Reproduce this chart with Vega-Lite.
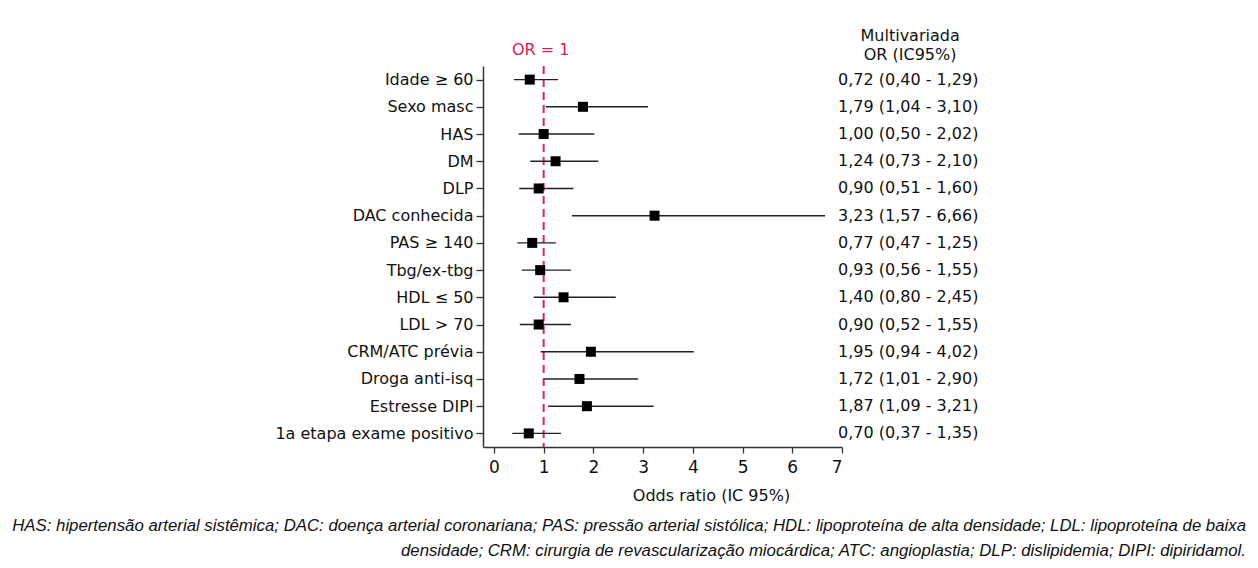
{
  "$schema": "https://vega.github.io/schema/vega-lite/v6.json",
  "autosize": {"type": "none"},
  "padding": {"left": 483, "top": 66, "right": 416, "bottom": 121},
  "width": 359,
  "height": 381,
  "background": "white",
  "config": {
    "view": {"stroke": null},
    "font": "DejaVu Sans"
  },
  "title": {
    "text": [
      "HAS: hipertensão arterial sistêmica; DAC: doença arterial coronariana; PAS: pressão arterial sistólica; HDL: lipoproteína de alta densidade; LDL: lipoproteína de baixa",
      "densidade; CRM: cirurgia de revascularização miocárdica; ATC: angioplastia; DLP: dislipidemia; DIPI: dipiridamol."
    ],
    "orient": "bottom",
    "anchor": "end",
    "align": "right",
    "frame": "group",
    "dx": 404,
    "offset": 15,
    "font": "Liberation Sans",
    "fontSize": 16.8,
    "fontStyle": "italic",
    "fontWeight": "normal",
    "lineHeight": 25,
    "color": "#111111"
  },
  "datasets": {
    "rows": [
      {"var": "Idade ≥ 60", "or": 0.72, "lo": 0.40, "hi": 1.29, "label": "0,72 (0,40 - 1,29)"},
      {"var": "Sexo masc", "or": 1.79, "lo": 1.04, "hi": 3.10, "label": "1,79 (1,04 - 3,10)"},
      {"var": "HAS", "or": 1.00, "lo": 0.50, "hi": 2.02, "label": "1,00 (0,50 - 2,02)"},
      {"var": "DM", "or": 1.24, "lo": 0.73, "hi": 2.10, "label": "1,24 (0,73 - 2,10)"},
      {"var": "DLP", "or": 0.90, "lo": 0.51, "hi": 1.60, "label": "0,90 (0,51 - 1,60)"},
      {"var": "DAC conhecida", "or": 3.23, "lo": 1.57, "hi": 6.66, "label": "3,23 (1,57 - 6,66)"},
      {"var": "PAS ≥ 140", "or": 0.77, "lo": 0.47, "hi": 1.25, "label": "0,77 (0,47 - 1,25)"},
      {"var": "Tbg/ex-tbg", "or": 0.93, "lo": 0.56, "hi": 1.55, "label": "0,93 (0,56 - 1,55)"},
      {"var": "HDL ≤ 50", "or": 1.40, "lo": 0.80, "hi": 2.45, "label": "1,40 (0,80 - 2,45)"},
      {"var": "LDL > 70", "or": 0.90, "lo": 0.52, "hi": 1.55, "label": "0,90 (0,52 - 1,55)"},
      {"var": "CRM/ATC prévia", "or": 1.95, "lo": 0.94, "hi": 4.02, "label": "1,95 (0,94 - 4,02)"},
      {"var": "Droga anti-isq", "or": 1.72, "lo": 1.01, "hi": 2.90, "label": "1,72 (1,01 - 2,90)"},
      {"var": "Estresse DIPI", "or": 1.87, "lo": 1.09, "hi": 3.21, "label": "1,87 (1,09 - 3,21)"},
      {"var": "1a etapa exame positivo", "or": 0.70, "lo": 0.37, "hi": 1.35, "label": "0,70 (0,37 - 1,35)"}
    ],
    "single": [{"ref": 1, "first": "Idade ≥ 60"}]
  },
  "layer": [
    {
      "data": {"name": "single"},
      "mark": {"type": "rule", "color": "#e0245a", "strokeWidth": 2, "strokeDash": [8, 5]},
      "encoding": {"x": {"field": "ref", "type": "quantitative"}}
    },
    {
      "data": {"name": "rows"},
      "mark": {"type": "rule", "color": "#222222", "strokeWidth": 1.4},
      "encoding": {
        "y": {
          "field": "var",
          "type": "nominal",
          "sort": null,
          "scale": {
            "type": "point",
            "padding": 0.5,
            "domain": ["Idade ≥ 60", "Sexo masc", "HAS", "DM", "DLP", "DAC conhecida", "PAS ≥ 140", "Tbg/ex-tbg", "HDL ≤ 50", "LDL > 70", "CRM/ATC prévia", "Droga anti-isq", "Estresse DIPI", "1a etapa exame positivo"]
          },
          "axis": {
            "title": null,
            "labelFont": "DejaVu Sans",
            "labelFontSize": 16,
            "labelColor": "#111111",
            "labelLimit": 0,
            "labelPadding": 3,
            "tickSize": 7,
            "tickColor": "#333333",
            "tickWidth": 1.3,
            "domainColor": "#333333",
            "domainWidth": 1.5,
            "grid": false
          }
        },
        "x": {
          "field": "lo",
          "type": "quantitative",
          "scale": {"domain": [-0.22, 7], "nice": false, "zero": false},
          "axis": {
            "values": [0, 1, 2, 3, 4, 5, 6, 7],
            "format": "d",
            "grid": false,
            "labelFont": "DejaVu Sans",
            "labelFontSize": 17,
            "labelColor": "#111111",
            "labelPadding": 6,
            "tickSize": 6,
            "tickColor": "#333333",
            "tickWidth": 1.3,
            "domainColor": "#333333",
            "domainWidth": 1.5,
            "title": "Odds ratio (IC 95%)",
            "titleFont": "DejaVu Sans",
            "titleFontSize": 16,
            "titleFontWeight": "normal",
            "titleColor": "#111111",
            "titlePadding": 12,
            "titleX": 228
          }
        },
        "x2": {"field": "hi"}
      }
    },
    {
      "data": {"name": "rows"},
      "mark": {"type": "point", "shape": "square", "filled": true, "size": 100, "color": "#000000", "opacity": 1},
      "encoding": {
        "y": {"field": "var", "type": "nominal", "sort": null},
        "x": {"field": "or", "type": "quantitative"}
      }
    },
    {
      "data": {"name": "rows"},
      "mark": {"type": "text", "align": "left", "baseline": "middle", "font": "DejaVu Sans", "fontSize": 16, "color": "#111111"},
      "encoding": {
        "y": {"field": "var", "type": "nominal", "sort": null},
        "x": {"datum": 6.92, "type": "quantitative"},
        "text": {"field": "label"}
      }
    },
    {
      "data": {"name": "single"},
      "mark": {"type": "text", "text": "Multivariada", "align": "center", "baseline": "middle", "dy": -44, "font": "DejaVu Sans", "fontSize": 16, "color": "#111111"},
      "encoding": {"x": {"datum": 8.37, "type": "quantitative"}, "y": {"field": "first", "type": "nominal"}}
    },
    {
      "data": {"name": "single"},
      "mark": {"type": "text", "text": "OR (IC95%)", "align": "center", "baseline": "middle", "dy": -25, "font": "DejaVu Sans", "fontSize": 16, "color": "#111111"},
      "encoding": {"x": {"datum": 8.37, "type": "quantitative"}, "y": {"field": "first", "type": "nominal"}}
    },
    {
      "data": {"name": "single"},
      "mark": {"type": "text", "text": "OR = 1", "align": "center", "baseline": "middle", "dy": -30, "dx": -3, "font": "DejaVu Sans", "fontSize": 16, "color": "#d6204e"},
      "encoding": {"x": {"field": "ref", "type": "quantitative"}, "y": {"field": "first", "type": "nominal"}}
    }
  ]
}
